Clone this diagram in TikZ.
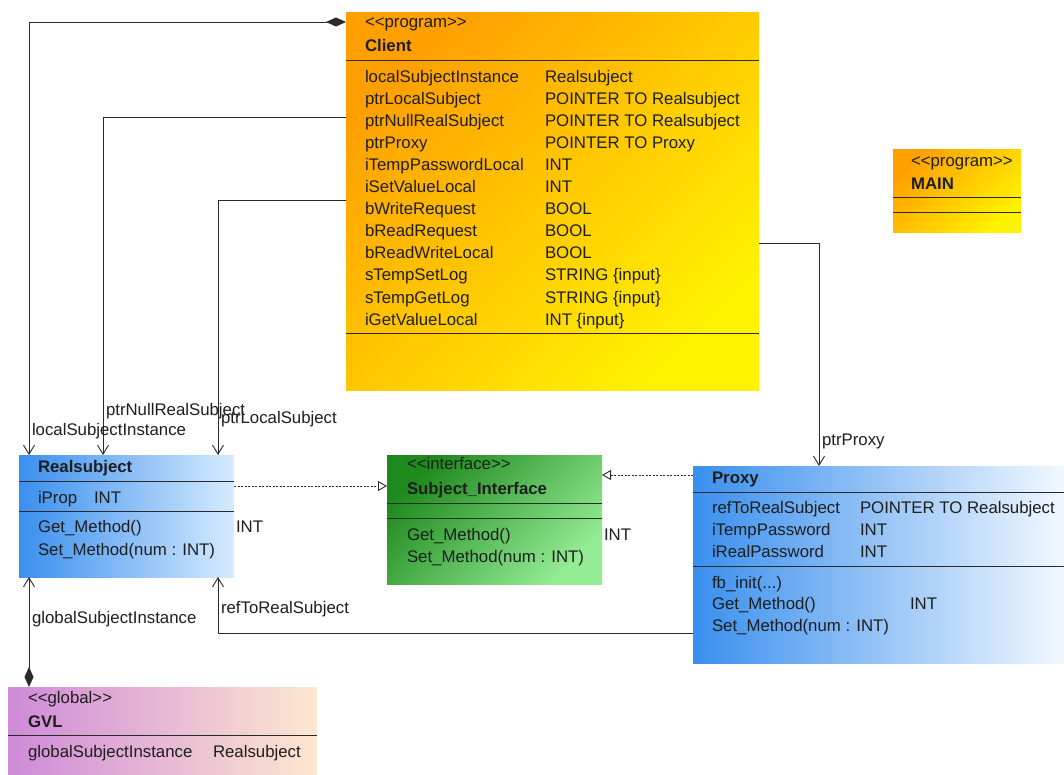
\documentclass[tikz,border=0pt]{standalone}
\usepackage{fontspec}
\setmainfont{Liberation Sans}
\usetikzlibrary{arrows.meta,calc}
\definecolor{txt}{HTML}{1E1E1E}
\definecolor{lnc}{HTML}{2A2A2A}
\definecolor{orA}{HTML}{FFA000}
\definecolor{orB}{HTML}{FFF200}
\definecolor{blA}{HTML}{3A8FEE}
\definecolor{blB}{HTML}{D6EBFF}
\definecolor{blC}{HTML}{F2F8FF}
\definecolor{grA}{HTML}{1E8A1E}
\definecolor{grB}{HTML}{94EC94}
\definecolor{pkA}{HTML}{CF8AD8}
\definecolor{pkB}{HTML}{FDE8D0}
\newcommand{\stereo}[1]{<{}<#1>{}>}
\begin{document}
\begin{tikzpicture}[x=1pt,y=-1pt,
  every node/.style={inner sep=0pt,outer sep=0pt,text=txt,font=\fontsize{16.8}{20}\selectfont},
  t/.style={anchor=base west},
  bt/.style={anchor=base west,font=\fontsize{16.8}{20}\selectfont\bfseries},
  box/.style={anchor=north west,draw=none},
  sep/.style={draw=lnc,line width=1pt},
  conn/.style={draw=lnc,line width=0.9pt},
  openarr/.style={-{Straight Barb[length=9pt,width=11pt,line width=0.9pt]}},
  diamarr/.style={{Diamond[length=20pt,width=9pt]}-{Straight Barb[length=9pt,width=11pt,line width=0.9pt]}},
  realize/.style={dash pattern=on 2pt off 1.5pt,-{Triangle[open,length=9pt,width=10pt,line width=0.9pt]}}
]
\useasboundingbox (0,0) rectangle (1064,774);
\fill[white] (0,0) rectangle (1064,774);

% ---- boxes ----
\node[box,minimum width=413pt,minimum height=378pt,top color=orA,bottom color=orB,shading angle=45] (client) at (346,12) {};
\node[box,minimum width=128pt,minimum height=83pt,top color=orA,bottom color=orB,shading angle=45] (main) at (893,149) {};
\node[box,minimum width=215pt,minimum height=122pt,left color=blA,right color=blB] (real) at (19,455) {};
\node[box,minimum width=215pt,minimum height=129pt,top color=grA,bottom color=grB,shading angle=45] (iface) at (387,455) {};
\node[box,minimum width=371pt,minimum height=197pt,left color=blA,right color=blC] (proxy) at (693,466) {};
\node[box,minimum width=309pt,minimum height=87pt,left color=pkA,right color=pkB] (gvl) at (8,687) {};

% ---- Client ----
\node[t] (clst) at (365,27) {\stereo{program}};
\node[bt] (clnm) at (365,51) {Client};
\draw[sep] ([yshift=-48pt]client.north west) -- ([yshift=-48pt]client.north east);
\foreach \n/\ty [count=\i] in {localSubjectInstance/Realsubject,
  ptrLocalSubject/POINTER TO Realsubject,
  ptrNullRealSubject/POINTER TO Realsubject,
  ptrProxy/POINTER TO Proxy,
  iTempPasswordLocal/INT,
  iSetValueLocal/INT,
  bWriteRequest/BOOL,
  bReadRequest/BOOL,
  bReadWriteLocal/BOOL,
  sTempSetLog/STRING \{input\},
  sTempGetLog/STRING \{input\},
  iGetValueLocal/INT \{input\}}
{
  \node[t] (cn\i) at (365,{82+22.1*(\i-1)}) {\n};
  \node[t] (ct\i) at (545,{82+22.1*(\i-1)}) {\ty};
}
\draw[sep] ([yshift=-321pt]client.north west) -- ([yshift=-321pt]client.north east);

% ---- MAIN ----
\node[t] (mst) at (911,166) {\stereo{program}};
\node[bt] (mnm) at (911,189) {MAIN};
\draw[sep] ([yshift=-48pt]main.north west) -- ([yshift=-48pt]main.north east);
\draw[sep] ([yshift=-63pt]main.north west) -- ([yshift=-63pt]main.north east);

% ---- Realsubject ----
\node[bt] (rnm) at (38,472) {Realsubject};
\draw[sep] ([yshift=-26pt]real.north west) -- ([yshift=-26pt]real.north east);
\node[t] (ra1) at (38,503) {iProp};
\node[t] (ra1t) at (94,503) {INT};
\draw[sep] ([yshift=-56pt]real.north west) -- ([yshift=-56pt]real.north east);
\node[t] (rm1) at (38,532) {Get\_Method()};
\node[t] (rm1t) at (236,532) {INT};
\node[t] (rm2) at (38,555) {Set\_Method(num : INT)};

% ---- Subject_Interface ----
\node[t] (ist) at (407,469) {\stereo{interface}};
\node[bt] (inm) at (407,494) {Subject\_Interface};
\draw[sep] ([yshift=-48pt]iface.north west) -- ([yshift=-48pt]iface.north east);
\draw[sep] ([yshift=-63pt]iface.north west) -- ([yshift=-63pt]iface.north east);
\node[t] (im1) at (407,540) {Get\_Method()};
\node[t] (im1t) at (604,540) {INT};
\node[t] (im2) at (407,562) {Set\_Method(num : INT)};

% ---- Proxy ----
\node[bt] (pnm) at (712,483) {Proxy};
\draw[sep] ([yshift=-26pt]proxy.north west) -- ([yshift=-26pt]proxy.north east);
\node[t] (pa1) at (712,513) {refToRealSubject};
\node[t] (pa1t) at (860,513) {POINTER TO Realsubject};
\node[t] (pa2) at (712,535) {iTempPassword};
\node[t] (pa2t) at (860,535) {INT};
\node[t] (pa3) at (712,557) {iRealPassword};
\node[t] (pa3t) at (860,557) {INT};
\draw[sep] ([yshift=-100pt]proxy.north west) -- ([yshift=-100pt]proxy.north east);
\node[t] (pm1) at (712,588) {fb\_init(...)};
\node[t] (pm2) at (712,609) {Get\_Method()};
\node[t] (pm2t) at (910,609) {INT};
\node[t] (pm3) at (712,631) {Set\_Method(num : INT)};

% ---- GVL ----
\node[t] (gst) at (28,703) {\stereo{global}};
\node[bt] (gnm) at (28,727) {GVL};
\draw[sep] ([yshift=-48pt]gvl.north west) -- ([yshift=-48pt]gvl.north east);
\node[t] (ga1) at (28,757) {globalSubjectInstance};
\node[t] (ga1t) at (213,757) {Realsubject};

% ---- connectors ----
\draw[conn,diamarr] ([yshift=-10pt]client.north west) -| ([xshift=10pt]real.north west);
\draw[conn,openarr] ([yshift=-105pt]client.north west) -| ([xshift=84pt]real.north west);
\draw[conn,openarr] ([yshift=-188pt]client.north west) -| ([xshift=199pt]real.north west);
\draw[conn,openarr] ([yshift=-231pt]client.north east) -| ([xshift=126pt]proxy.north west);
\draw[conn,realize] ([yshift=-31pt]real.north east) -- ([yshift=-31pt]iface.north west);
\draw[conn,realize] ([yshift=-9pt]proxy.north west) -- ([yshift=-20pt]iface.north east);
\draw[conn,openarr] ([yshift=-167pt]proxy.north west) -| ([xshift=199pt]real.south west);
\draw[conn,diamarr] ([xshift=21pt]gvl.north west) -- ([xshift=10pt]real.south west);

% ---- connector labels ----
\node[t] (l1) at (32,435) {localSubjectInstance};
\node[t] (l2) at (106,415) {ptrNullRealSubject};
\node[t] (l3) at (221,423) {ptrLocalSubject};
\node[t] (l4) at (822,445) {ptrProxy};
\node[t] (l5) at (221,613) {refToRealSubject};
\node[t] (l6) at (32,623) {globalSubjectInstance};
\end{tikzpicture}
\end{document}
